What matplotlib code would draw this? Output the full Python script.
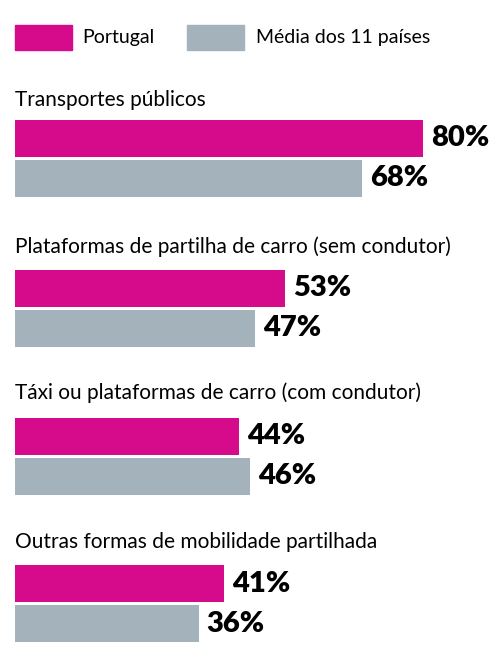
import matplotlib
matplotlib.use("Agg")
import matplotlib.pyplot as plt
from matplotlib.patches import Rectangle

categories = ["Transportes públicos",
              "Plataformas de partilha de carro (sem condutor)",
              "Táxi ou plataformas de carro (com condutor)",
              "Outras formas de mobilidade partilhada"]
portugal = [80, 53, 44, 41]
media = [68, 47, 46, 36]
series_names = ["Portugal", "Média dos 11 países"]
c_pt = "#D60B8C"
c_md = "#A3B2BB"

W, H = 500, 663
fig = plt.figure(figsize=(W/100, H/100), dpi=100)
ax = fig.add_axes([0, 0, 1, 1])
px = 5.1
ax.set_xlim(-15/px, (W-15)/px)
ax.set_ylim(H, 0)
ax.axis("off")

font = "Lato"
# legend
ax.add_patch(Rectangle((0, 25), 57/px, 25, color=c_pt))
ax.text(67/px, 38, series_names[0], fontsize=14, family=font, va="center")
ax.add_patch(Rectangle((172/px, 25), 57/px, 25, color=c_md))
ax.text(241/px, 38, series_names[1], fontsize=14, family=font, va="center")

label_y = [100, 247, 393, 542]
top_pt = [120, 270, 418, 565]
bh = 37
for i, cat in enumerate(categories):
    ax.text(0, label_y[i], cat, fontsize=15, family=font, va="center")
    y1 = top_pt[i] + bh/2
    y2 = top_pt[i] + 40 + bh/2
    ax.barh([y1], [portugal[i]], height=bh, left=0, color=c_pt)
    ax.barh([y2], [media[i]], height=bh, left=0, color=c_md)
    ax.text(portugal[i] + 8/px, y1, f"{portugal[i]}%", fontsize=21, family=font,
            fontweight="heavy", va="center")
    ax.text(media[i] + 8/px, y2, f"{media[i]}%", fontsize=21, family=font,
            fontweight="heavy", va="center")

fig.savefig("out.png", dpi=100)
